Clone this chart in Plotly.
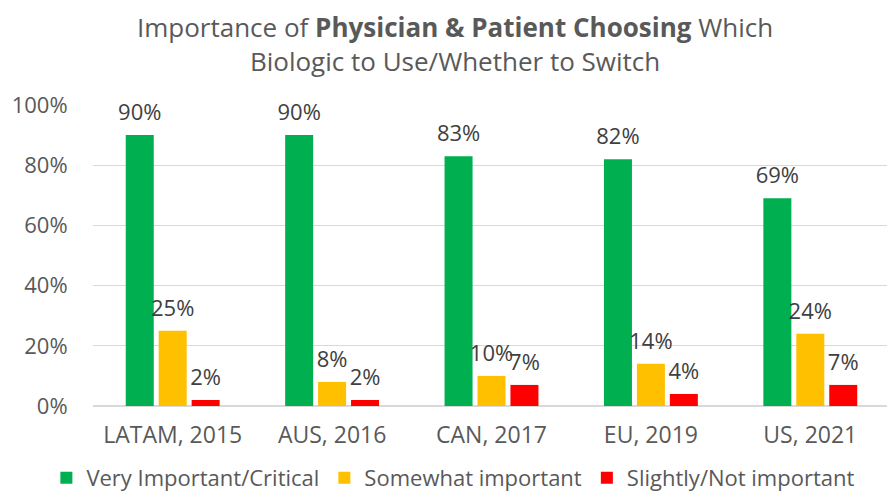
import plotly.graph_objects as go

categories = ["LATAM, 2015", "AUS, 2016", "CAN, 2017", "EU, 2019", "US, 2021"]
very_important = [0.90, 0.90, 0.83, 0.82, 0.69]
somewhat_important = [0.25, 0.08, 0.10, 0.14, 0.24]
slightly_not = [0.02, 0.02, 0.07, 0.04, 0.07]

series = [
    ("Very Important/Critical", very_important, "#00B050", "g1"),
    ("Somewhat important", somewhat_important, "#FFC000", "g2"),
    ("Slightly/Not important", slightly_not, "#FF0000", "g3"),
]

FONT = "'Open Sans', sans-serif"

fig = go.Figure()
for name, vals, color, grp in series:
    fig.add_trace(go.Bar(
        x=categories, y=vals, name=name, offsetgroup=grp,
        marker=dict(color=color, line=dict(width=0)),
        hoverinfo="skip",
    ))
for name, vals, color, grp in series:
    fig.add_trace(go.Scatter(
        x=categories, y=vals, offsetgroup=grp, mode="markers+text",
        marker=dict(size=14, opacity=0),
        text=[f"{round(v*100)}%" for v in vals],
        textposition="top center",
        textfont=dict(family=FONT, size=22, color="#404040"),
        showlegend=False, cliponaxis=False, hoverinfo="skip",
    ))

fig.update_layout(
    width=887, height=483,
    margin=dict(l=85, r=5, t=97, b=85, autoexpand=False),
    paper_bgcolor="white", plot_bgcolor="white",
    barmode="group", bargap=0.38, bargroupgap=0.15,
    scattermode="group", scattergap=0.38,
    font=dict(family=FONT, color="#595959"),
    title=dict(
        text="Importance of <b>Physician & Patient Choosing</b> Which<br>Biologic to Use/Whether to Switch",
        x=0.504, xanchor="center", y=0.94, yanchor="middle",
        font=dict(family=FONT, size=26, color="#595959"),
    ),
    xaxis=dict(
        showgrid=False, showline=True, linecolor="#d9d9d9", linewidth=1,
        tickfont=dict(family=FONT, size=23, color="#595959"),
        ticks="outside", ticklen=8, tickcolor="rgba(0,0,0,0)", automargin=False,
    ),
    yaxis=dict(
        range=[0, 1], dtick=0.2, tickformat=".0%",
        showgrid=True, gridcolor="#d9d9d9", gridwidth=1,
        zeroline=True, zerolinecolor="#d9d9d9",
        tickfont=dict(family=FONT, size=22, color="#595959"),
        ticks="outside", ticklen=20, tickcolor="rgba(0,0,0,0)", automargin=False,
    ),
    legend=dict(
        orientation="h", x=-0.0585, xanchor="left", y=-0.239, yanchor="middle",
        font=dict(family=FONT, size=22, color="#595959"),
        tracegroupgap=0, itemwidth=30,
    ),
    showlegend=True,
)

fig.write_html("out.html")
